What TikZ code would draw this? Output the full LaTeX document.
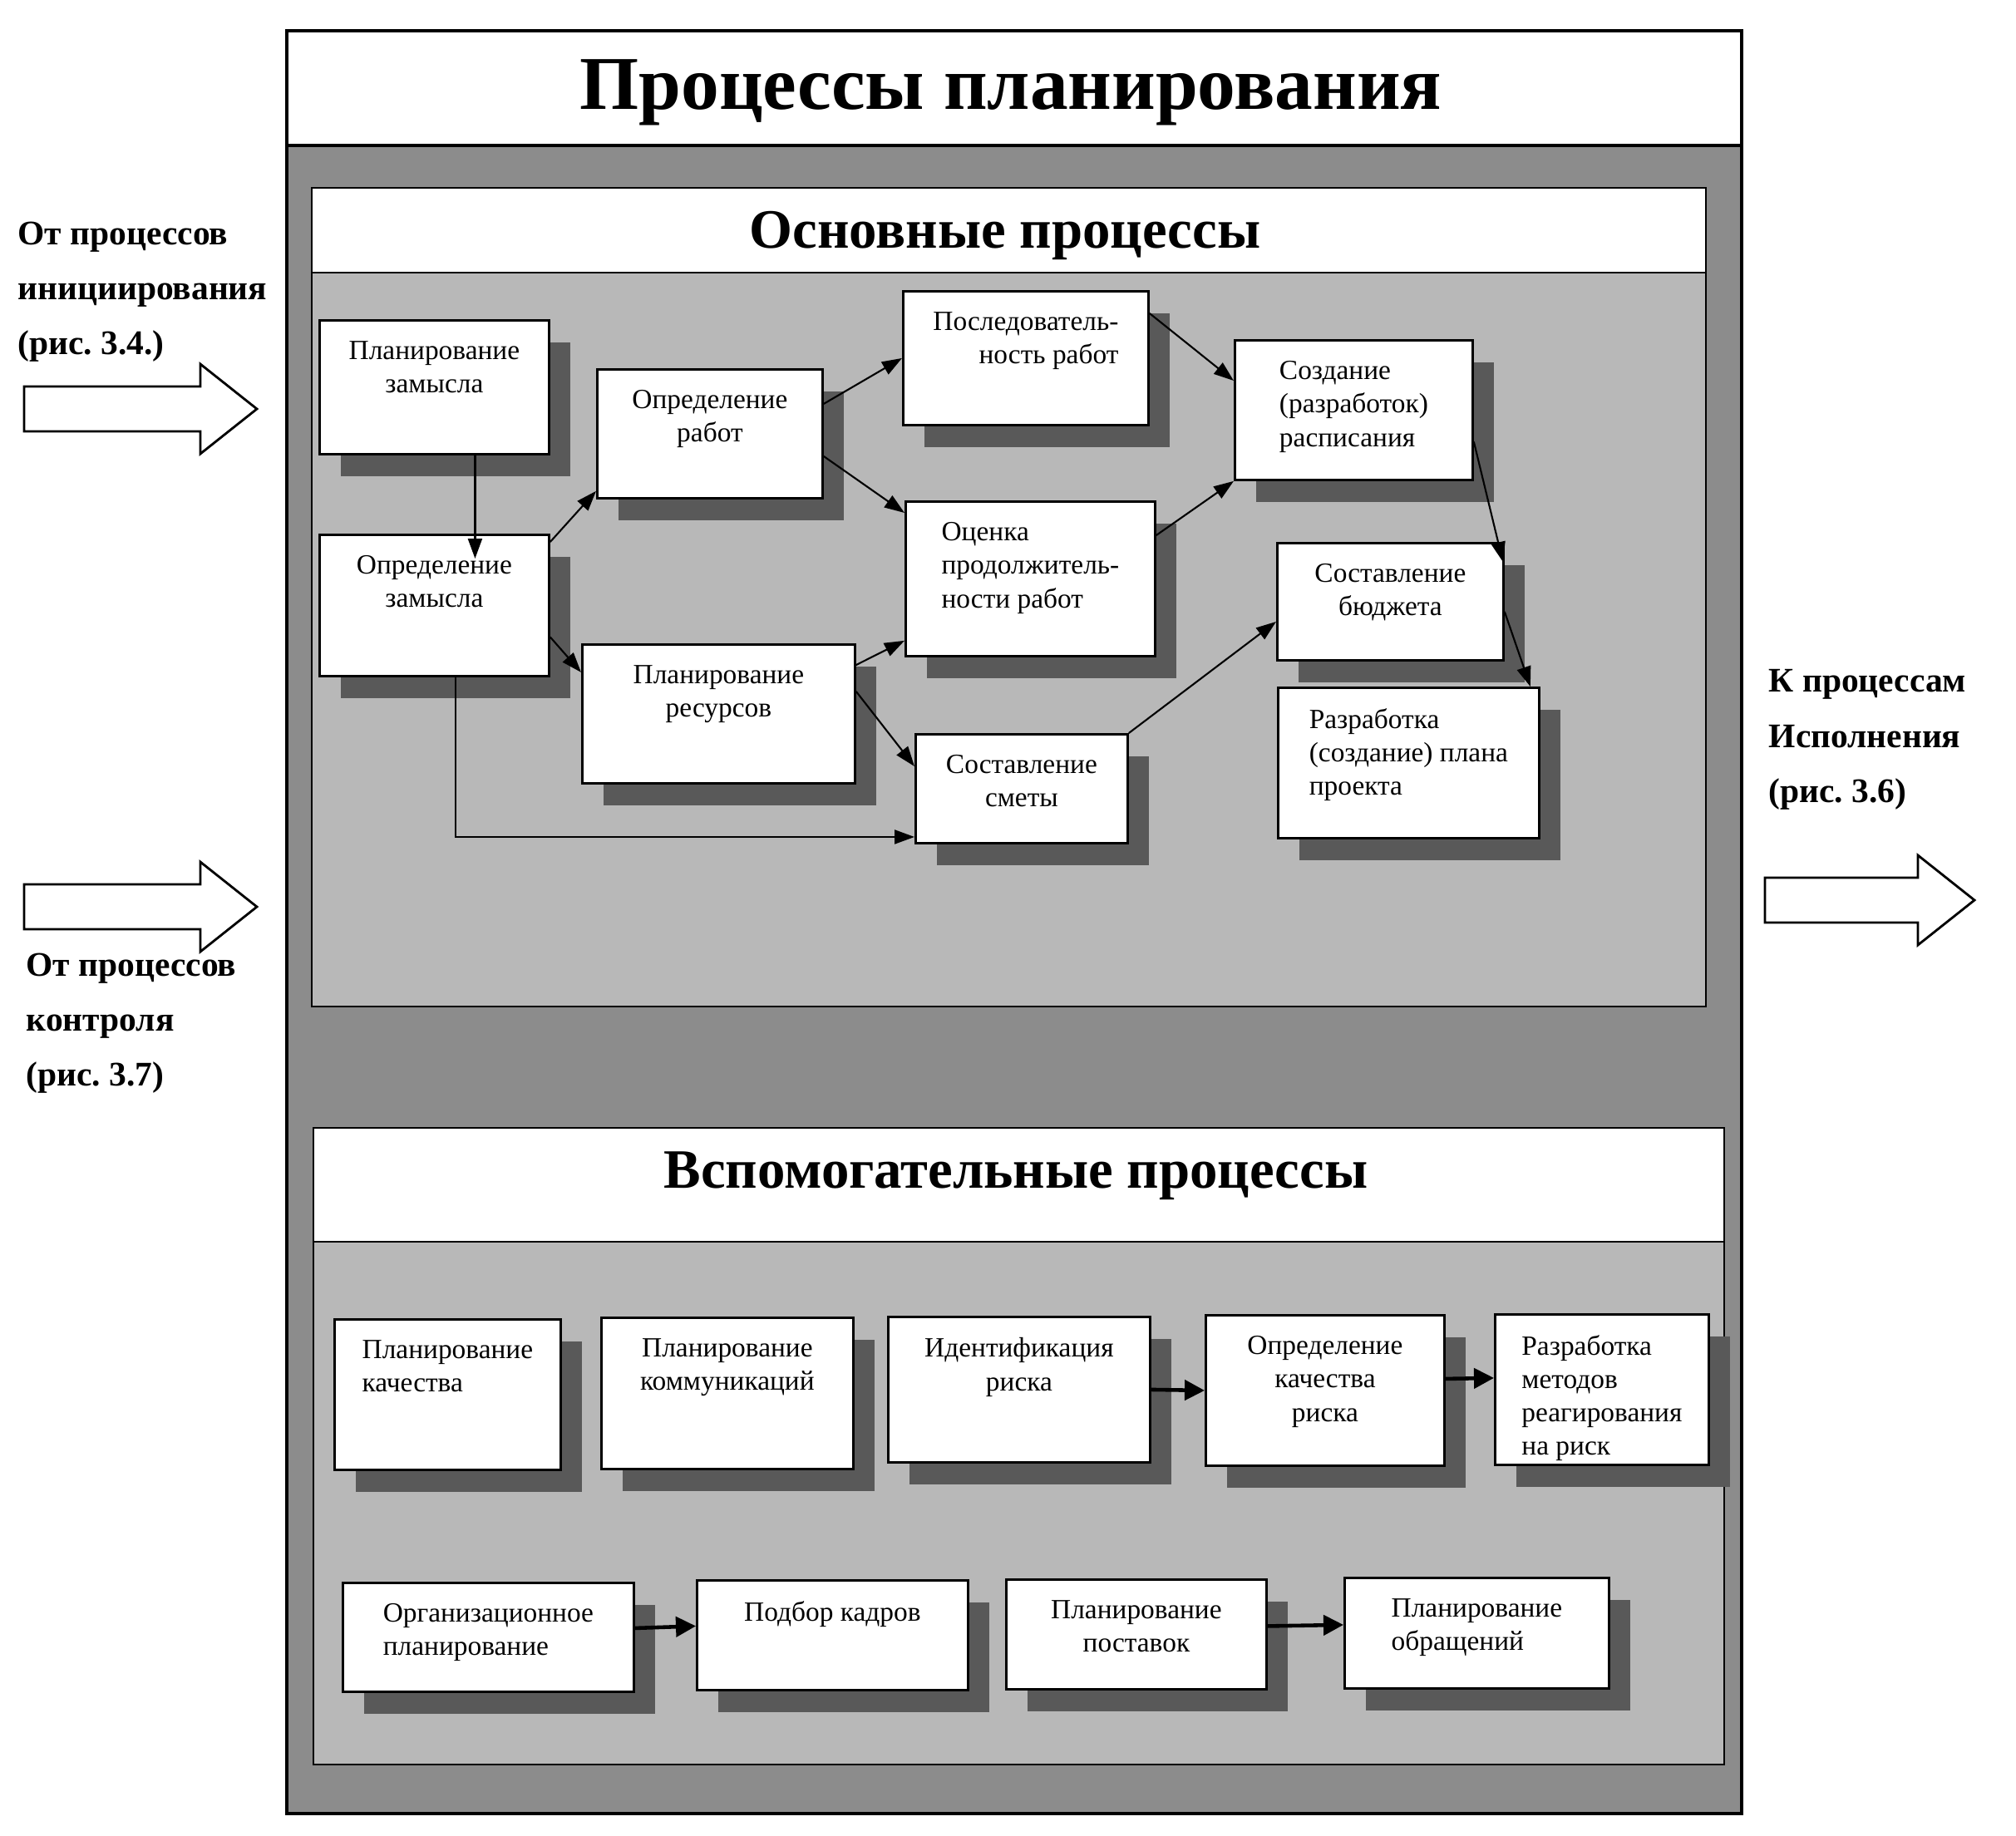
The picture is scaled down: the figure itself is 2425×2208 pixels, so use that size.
\documentclass[tikz,border=0pt]{standalone}
\usepackage{fontspec}
\setmainfont{Liberation Serif}
\usetikzlibrary{positioning,shadows,arrows.meta}
\frenchspacing

\begin{document}
\begin{tikzpicture}[x=0.01cm,y=-0.01cm,
    box/.style={draw,line width=0.8pt,fill=white,anchor=north west,inner sep=0pt,
      drop shadow={shadow xshift=0.26cm,shadow yshift=-0.27cm,fill=black!65,opacity=1}},
    txt/.style={inner sep=0pt,font=\fontsize{9.5}{11.4}\selectfont},
    arr/.style={line width=0.6pt,-{Triangle[length=0.24cm,width=0.17cm]}},
    farr/.style={line width=1.3pt,-{Triangle[length=0.24cm,width=0.24cm]}},
    barrow/.style={draw,line width=0.8pt,fill=white},
    side/.style={inner sep=0pt,anchor=north west,align=left,
      font=\fontsize{11.8}{18.8}\selectfont\bfseries}]

  \useasboundingbox (0,0) rectangle (2425,2208);

  % frames
  \filldraw[fill=black!45,line width=1pt] (345,175) rectangle (2095,2182);
  \filldraw[fill=white,line width=1pt] (345,37) rectangle (2095,175);
  \filldraw[fill=black!28,line width=0.8pt] (375,328) rectangle (2052,1211);
  \filldraw[fill=white,line width=0.8pt] (375,226) rectangle (2052,328);
  \filldraw[fill=black!28,line width=0.8pt] (377,1494) rectangle (2074,2123);
  \filldraw[fill=white,line width=0.8pt] (377,1357) rectangle (2074,1494);

  \node[font=\fontsize{26}{30}\selectfont\bfseries] (title) at (1216,111) {Процессы планирования};
  \node[font=\fontsize{19}{23}\selectfont\bfseries] (main) at (1209,283) {Основные процессы};
  \node[font=\fontsize{19}{23}\selectfont\bfseries] (aux) at (1222,1415) {Вспомогательные процессы};

  % processes
  \foreach \n/\x/\y/\w/\h/\al/\t in {
      pz/383/384/276/161/center/{Планирование\\замысла},
      oz/383/642/276/170/center/{Определение\\замысла},
      or/717/443/271/155/center/{Определение\\работ},
      prs/699/774/328/167/center/{Планирование\\ресурсов},
      pos/1085/349/295/161/right/{Последователь-\\ность работ},
      ocn/1088/602/300/186/left/{Оценка\\продолжитель-\\ности работ},
      smt/1100/882/255/131/center/{Составление\\сметы},
      sozd/1484/408/286/168/left/{Создание\\(разработок)\\расписания},
      bud/1535/652/272/141/center/{Составление\\бюджета},
      plan/1536/826/314/181/left/{Разработка\\(создание) плана\\проекта},
      kach/401/1586/272/181/left/{Планирование\\качества},
      komm/722/1584/303/182/center/{Планирование\\коммуникаций},
      ident/1067/1583/315/175/center/{Идентификация\\риска},
      opr/1449/1581/287/181/center/{Определение\\качества\\риска},
      razr/1797/1580/257/181/left/{Разработка\\методов\\реагирования\\на риск},
      org/411/1903/350/131/left/{Организационное\\планирование},
      kadr/837/1900/326/132/center/{Подбор кадров},
      post/1209/1899/313/132/center/{Планирование\\поставок},
      obr/1616/1897/318/133/left/{Планирование\\обращений}}
  {\node[box,minimum width=\w*0.01cm,minimum height=\h*0.01cm] (\n) at (\x,\y) {};
   \node[txt,align=\al,below=0.26cm of \n.north] (\n-t) {\t};
  };

  \draw[arr] ([xshift=0.49cm]pz.south) -- ([xshift=0.49cm,yshift=-0.3cm]oz.north);
  \draw[arr] ([yshift=-0.1cm]oz.north east) -- ([yshift=0.1cm]or.south west);
  \draw[arr] ([yshift=-0.38cm]oz.east) -- ([yshift=0.5cm]prs.west);
  \draw[arr] ([xshift=0.26cm]oz.south) |- ([yshift=-0.58cm]smt.west);
  \draw[arr] ([yshift=0.36cm]or.east) -- (pos.west);
  \draw[arr] ([yshift=-0.27cm]or.east) -- ([yshift=-0.15cm]ocn.north west);
  \draw[arr] ([yshift=-0.26cm]prs.north east) -- ([yshift=0.2cm]ocn.south west);
  \draw[arr] ([yshift=0.27cm]prs.east) -- ([yshift=-0.4cm]smt.north west);
  \draw[arr] ([yshift=-0.28cm]pos.north east) -- ([yshift=-0.5cm]sozd.north west);
  \draw[arr] ([yshift=-0.42cm]ocn.north east) -- (sozd.south west);
  \draw[arr] (smt.north east) -- ([yshift=-0.24cm]bud.west);
  \draw[arr] ([yshift=-0.38cm]sozd.east) -- ([xshift=-0.02cm,yshift=-0.24cm]bud.north east);
  \draw[arr] ([yshift=-0.12cm]bud.east) -- ([xshift=-0.12cm]plan.north east);

  \draw[farr] (ident.east) -- (opr.west);
  \draw[farr] ([yshift=0.14cm]opr.east) -- ([yshift=0.14cm]razr.west);
  \draw[farr] ([yshift=0.11cm]org.east) -- ([yshift=0.11cm]kadr.west);
  \draw[farr] ([yshift=0.1cm]post.east) -- ([yshift=0.1cm]obr.west);

  % in / out
  \foreach \ax/\ay/\al in {29/492/280, 29/1091/280, 2123/1083/252}
  {\draw[barrow] (\ax,\ay-27) -- (\ax+\al-68,\ay-27) -- (\ax+\al-68,\ay-54)
     -- (\ax+\al,\ay) -- (\ax+\al-68,\ay+54) -- (\ax+\al-68,\ay+27) -- (\ax,\ay+27) -- cycle;
  };

  \node[side] (from-init) at (21,266) {От процессов\\инициирования\\(рис. 3.4.)};
  \node[side] (from-ctrl) at (31,1146) {От процессов\\контроля\\(рис. 3.7)};
  \node[side] (to-exec) at (2127,805) {К процессам\\Исполнения\\(рис. 3.6)};
\end{tikzpicture}
\end{document}
